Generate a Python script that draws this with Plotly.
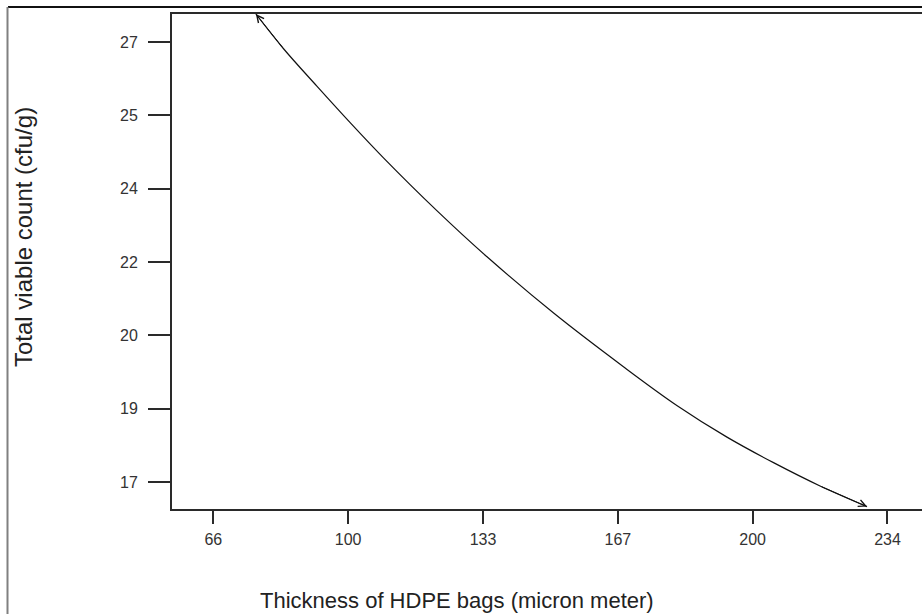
import plotly.graph_objects as go

# Curve (thickness in micron, total viable count cfu/g)
thickness = [76.6, 83.5, 91.8, 100.1, 108.4, 121.7, 134.2, 150.8, 168.2, 181.5, 194.0, 205.6, 217.2, 228.9]
count = [27.64, 26.85, 26.00, 25.17, 24.37, 23.17, 22.12, 20.84, 19.62, 18.74, 18.02, 17.44, 16.91, 16.44]

# Tick positions (evenly spaced) and their printed (rounded) labels
x_tickvals = [66.0, 99.6, 133.2, 166.8, 200.4, 234.0]
x_ticktext = ["66", "100", "133", "167", "200", "234"]
y_tickvals = [17.0, 18.667, 20.333, 22.0, 23.667, 25.333, 27.0]
y_ticktext = ["17", "19", "20", "22", "24", "25", "27"]

x_title = "Thickness of HDPE bags (micron meter)"
y_title = "Total viable count (cfu/g)"

W, H = 922, 614
L, R, T, B = 172, 922, 14, 509

def px(p):
    return (p - L) / (R - L)

def py(p):
    return (B - p) / (B - T)

axis_col = "#2a2a2a"
font_fam = "Liberation Sans, Arial, sans-serif"

fig = go.Figure()
fig.add_trace(go.Scatter(
    x=thickness, y=count, mode="lines",
    line=dict(color="#111111", width=1.2, shape="spline", smoothing=1.0),
    hoverinfo="skip", showlegend=False,
))

# arrow heads at both ends of the curve
fig.add_annotation(x=thickness[0], y=count[0], ax=thickness[1], ay=count[1],
                   xref="x", yref="y", axref="x", ayref="y", text="",
                   showarrow=True, arrowhead=5, arrowsize=1.4, arrowwidth=1,
                   arrowcolor="#111111", standoff=0)
fig.add_annotation(x=thickness[-1], y=count[-1], ax=thickness[-2], ay=count[-2],
                   xref="x", yref="y", axref="x", ayref="y", text="",
                   showarrow=True, arrowhead=5, arrowsize=1.4, arrowwidth=1,
                   arrowcolor="#111111", standoff=0)

# axis titles placed as in the picture
fig.add_annotation(x=px(457), y=py(600), xref="paper", yref="paper", text=x_title,
                   showarrow=False, font=dict(family=font_fam, size=22, color="#222222"),
                   xanchor="center", yanchor="middle")
fig.add_annotation(x=px(23), y=py(237), xref="paper", yref="paper", text=y_title,
                   showarrow=False, textangle=-90,
                   font=dict(family=font_fam, size=24, color="#222222"),
                   xanchor="center", yanchor="middle")

# outer frame of the picture
fig.add_shape(type="line", xref="paper", yref="paper",
              x0=px(8), x1=px(922), y0=py(7), y1=py(7),
              line=dict(color="#111111", width=2))
fig.add_shape(type="line", xref="paper", yref="paper",
              x0=px(7.5), x1=px(7.5), y0=py(7), y1=py(614),
              line=dict(color="#808080", width=2))

fig.update_layout(
    width=W, height=H,
    margin=dict(l=L, r=W - R, t=T, b=H - B),
    paper_bgcolor="white", plot_bgcolor="white",
    font=dict(family=font_fam, color="#333333"),
    xaxis=dict(
        range=[55.7, 242.6], tickvals=x_tickvals, ticktext=x_ticktext,
        showgrid=False, zeroline=False, showline=True, mirror=True,
        linecolor=axis_col, linewidth=2,
        ticks="outside", ticklen=13, tickwidth=2, tickcolor=axis_col,
        tickfont=dict(family=font_fam, size=16, color="#333333"),
        ticklabelstandoff=2,
    ),
    yaxis=dict(
        range=[16.386, 27.64], tickvals=y_tickvals, ticktext=y_ticktext,
        showgrid=False, zeroline=False, showline=True,
        linecolor=axis_col, linewidth=2,
        ticks="outside", ticklen=22, tickwidth=2, tickcolor=axis_col,
        tickfont=dict(family=font_fam, size=16, color="#333333"),
        ticklabelstandoff=7,
    ),
)

fig.write_html("out.html")
